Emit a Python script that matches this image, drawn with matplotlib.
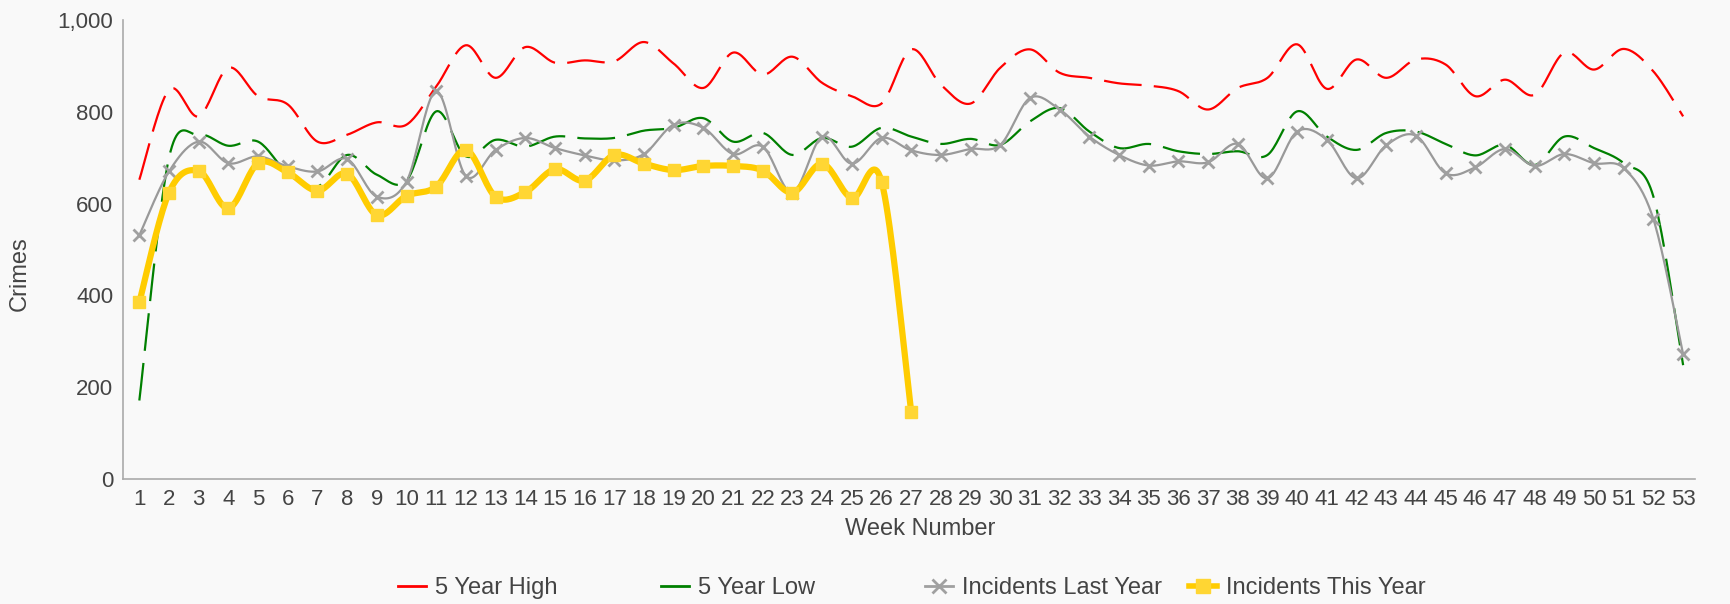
import numpy as np
import matplotlib
matplotlib.use("Agg")
import matplotlib.pyplot as plt
from matplotlib.lines import Line2D
from matplotlib.ticker import FuncFormatter

plt.rcParams['font.family'] = ['Liberation Sans', 'DejaVu Sans']

weeks = list(range(1, 54))
high = [652, 848, 790, 896, 834, 816, 735, 750, 777, 772, 855, 945, 874, 941, 907, 912,
        910, 952, 905, 852, 929, 881, 920, 863, 834, 818, 936, 859, 818, 896, 936, 885,
        874, 862, 857, 845, 805, 852, 874, 947, 850, 914, 874, 914, 903, 834, 870, 837,
        929, 892, 937, 888, 790]
low = [171, 700, 750, 726, 735, 666, 637, 706, 663, 650, 801, 703, 739, 724, 746, 742,
       743, 759, 765, 786, 735, 754, 706, 743, 724, 765, 746, 730, 741, 728, 779, 808,
       757, 721, 730, 714, 708, 714, 706, 801, 746, 717, 754, 757, 730, 705, 728, 684,
       746, 721, 688, 615, 248]
last_year = [531, 670, 735, 688, 703, 681, 670, 697, 615, 648, 845, 660, 717, 743, 721, 705,
             694, 708, 772, 765, 708, 724, 624, 746, 687, 743, 716, 706, 719, 728, 830, 805,
             746, 706, 683, 692, 690, 730, 655, 757, 739, 655, 727, 748, 666, 679, 719, 682,
             708, 688, 677, 566, 272]
this_year = [385, 624, 671, 590, 688, 668, 628, 665, 575, 617, 637, 717, 615, 625, 675, 650,
             706, 687, 673, 682, 682, 672, 624, 687, 612, 648, 145]
this_weeks = weeks[:len(this_year)]


def smooth(x, y, n=20):
    # catmull-rom curve through the points (like the "smoothed line" option)
    x = np.asarray(x, float)
    y = np.asarray(y, float)
    px = np.r_[x[0], x, x[-1]]
    py = np.r_[y[0], y, y[-1]]
    t = np.linspace(0, 1, n, endpoint=False)
    ox, oy = [], []
    for i in range(len(x) - 1):
        for p, out in ((px, ox), (py, oy)):
            p0, p1, p2, p3 = p[i], p[i + 1], p[i + 2], p[i + 3]
            out.append(0.5 * (2 * p1 + (-p0 + p2) * t + (2 * p0 - 5 * p1 + 4 * p2 - p3) * t ** 2
                              + (-p0 + 3 * p1 - 3 * p2 + p3) * t ** 3))
    return np.r_[np.concatenate(ox), x[-1]], np.r_[np.concatenate(oy), y[-1]]


bg = '#F9F9F9'
txt = '#444444'
fig = plt.figure(figsize=(17.31, 6.04), dpi=100, facecolor=bg)
ax = fig.add_axes([123 / 1731, 1 - 479 / 604, (1695 - 123) / 1731, (479 - 20) / 604])
ax.set_facecolor(bg)

sx, sy = smooth(weeks, high)
ax.plot(sx, sy, color='#FF0000', lw=1.6, dashes=(17, 5.5))
sx, sy = smooth(weeks, low)
ax.plot(sx, sy, color='#008000', lw=1.6, dashes=(17, 5.5))
sx, sy = smooth(weeks, last_year)
ax.plot(sx, sy, color='#999999', lw=1.6)
ax.plot(weeks, last_year, ls='none', marker='x', ms=9, mew=2, color='#A0A0A0')
sx, sy = smooth(this_weeks, this_year)
ax.plot(sx, sy, color='#FFCC00', lw=4.5, solid_capstyle='round')
ax.plot(this_weeks, this_year, ls='none', marker='s', ms=9, color='#FFD633', mec='#FFD633')

ax.set_xlim(0.45, 53.4)
ax.set_ylim(0, 1000)
ax.set_xticks(weeks)
ax.set_yticks(range(0, 1001, 200))
ax.yaxis.set_major_formatter(FuncFormatter(lambda v, p: f'{int(v):,}'))
ax.tick_params(length=0, labelsize=16, colors=txt)
ax.tick_params(axis='y', pad=7)
ax.tick_params(axis='x', pad=7)
for s in ['top', 'right']:
    ax.spines[s].set_visible(False)
for s in ['left', 'bottom']:
    ax.spines[s].set_color('#AAAAAA')
    ax.spines[s].set_linewidth(1.2)

fig.text(20 / 1731, 1 - 274 / 604, 'Crimes', rotation=90, ha='center', va='center',
         fontsize=17, color=txt)
fig.text(920 / 1731, 1 - 529 / 604, 'Week Number', ha='center', va='center',
         fontsize=17, color=txt)

# legend entries laid out with equal spacing along the bottom
items = [
    (398, Line2D([], [], color='#FF0000', lw=2), '5 Year High'),
    (661, Line2D([], [], color='#008000', lw=2), '5 Year Low'),
    (925, Line2D([], [], color='#A0A0A0', lw=2, marker='x', ms=10, mew=2), 'Incidents Last Year'),
    (1189, Line2D([], [], color='#FFCC00', lw=4, marker='s', ms=10, mfc='#FFD633', mec='#FFD633'),
     'Incidents This Year'),
]
for x0, h, lab in items:
    fig.legend([h], [lab], loc='center left', bbox_to_anchor=(x0 / 1731, 1 - 588 / 604),
               frameon=False, fontsize=17, handlelength=1.2, handletextpad=0.35,
               borderpad=0, borderaxespad=0, labelcolor=txt)

fig.savefig('out.png', dpi=100, facecolor=bg)
